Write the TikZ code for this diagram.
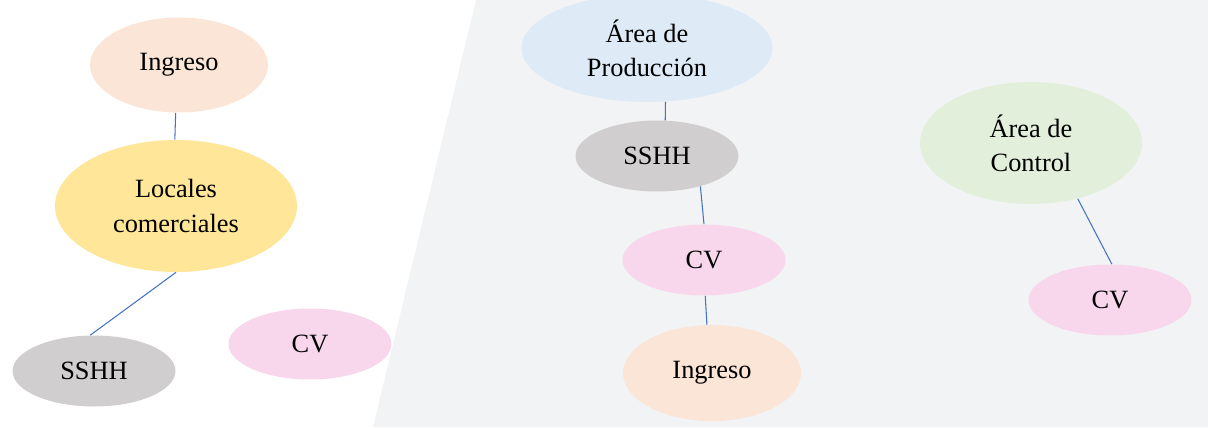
\documentclass[tikz,border=0pt]{standalone}
\usepackage{fontspec}
\setmainfont{Liberation Serif}
\usepackage{xcolor}
\usepackage{tikz}
\usetikzlibrary{shapes.geometric}
\definecolor{peach}{HTML}{FBE5D6}
\definecolor{sand}{HTML}{FFE699}
\definecolor{stone}{HTML}{D0CECE}
\definecolor{rose}{HTML}{F8D7EC}
\definecolor{sky}{HTML}{DEEBF7}
\definecolor{mint}{HTML}{E2EFDA}
\definecolor{zone}{HTML}{F2F3F5}
\definecolor{link}{HTML}{4472C4}

\begin{document}
\begin{tikzpicture}[x=0.02cm,y=-0.02cm,font=\fontsize{15}{19.5}\selectfont,
  room/.style={ellipse,draw=none,align=center,inner sep=0pt},
  small/.style={room,minimum width=3.26cm,minimum height=1.42cm},
  wire/.style={draw=link,line width=0.6pt}]
\useasboundingbox (0,0) rectangle (1208,427);
\fill[zone] (476,0) -- (1208,0) -- (1208,427) -- (373,427) -- cycle;
% zona comercial
\node[room,fill=peach,minimum width=3.56cm,minimum height=1.9cm] (ing1) at (179,65) {Ingreso};
\node[room,fill=sand,minimum width=4.84cm,minimum height=2.64cm] (loc) at (176,206) {Locales\\comerciales};
\node[small,fill=stone] (sshh1) at (94,371) {SSHH};
\node[small,fill=rose] (cv1) at (310,344) {CV};
% zona de produccion
\node[room,fill=sky,minimum width=5.02cm,minimum height=2.16cm] (prod) at (647,48) {Área de\\Producción};
\node[small,fill=stone] (sshh2) at (657,156) {SSHH};
\node[small,fill=rose] (cv2) at (704,260) {CV};
\node[room,fill=peach,minimum width=3.56cm,minimum height=1.92cm] (ing2) at (712,373) {Ingreso};
% zona de control
\node[room,fill=mint,minimum width=4.44cm,minimum height=2.44cm] (ctrl) at (1031,143) {Área de\\Control};
\node[small,fill=rose] (cv3) at (1110,300) {CV};
\draw[wire] (ing1.-94) -- (loc.91);
\draw[wire] (loc.south) -- (sshh1.96);
\draw[wire] (prod.-71) -- (sshh2.77);
\draw[wire] (sshh2.-35) -- (cv2.north);
\draw[wire] (cv2.-88) -- (ing2.96);
\draw[wire] (ctrl.-50) -- (cv3.87);
\end{tikzpicture}
\end{document}
